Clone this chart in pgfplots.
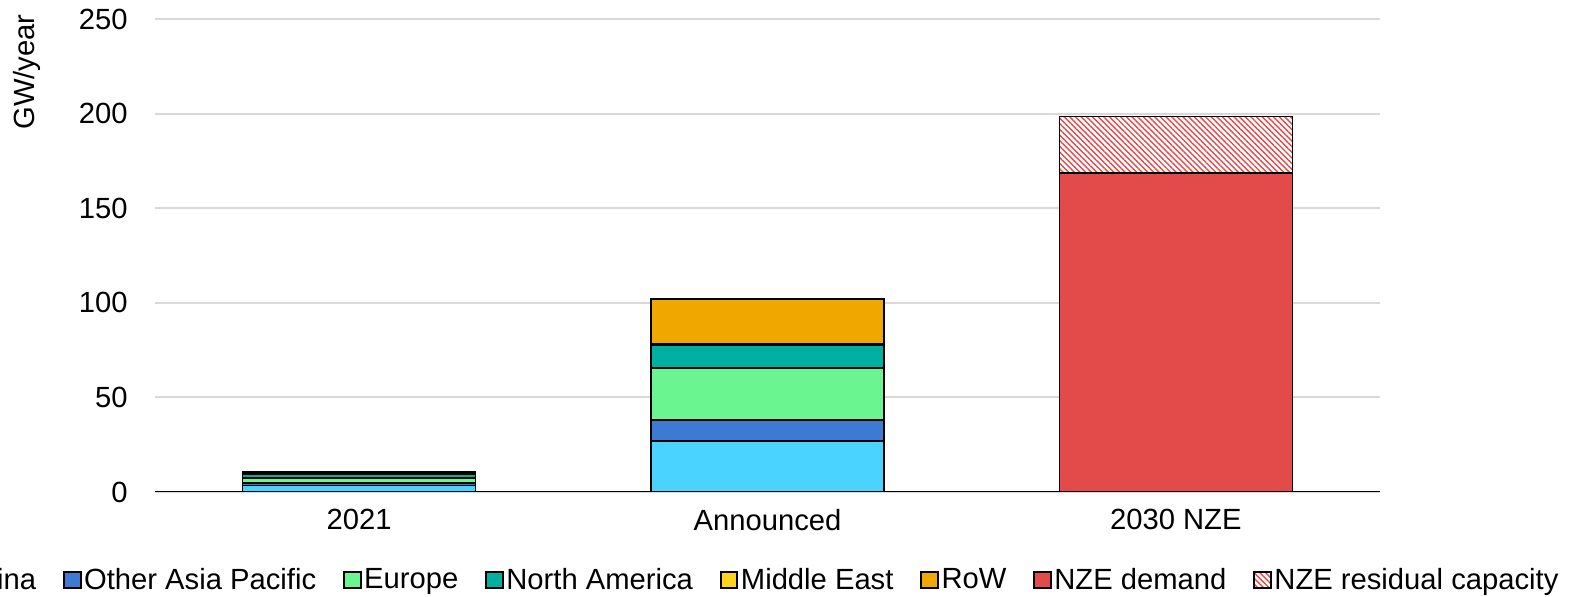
\documentclass[border=0pt]{standalone}
\usepackage{pgfplots}
\pgfplotsset{compat=1.18}
\usepackage{fontspec}
\setmainfont{Liberation Sans}
\usetikzlibrary{patterns.meta}

\definecolor{china}{HTML}{4AD3FF}
\definecolor{oap}{HTML}{3D7AD3}
\definecolor{europe}{HTML}{6AF591}
\definecolor{namerica}{HTML}{00AFA0}
\definecolor{mideast}{HTML}{FFD21F}
\definecolor{row}{HTML}{F0A800}
\definecolor{nzered}{HTML}{E34B4B}
\definecolor{gridgray}{HTML}{D9D9D9}

\begin{document}
\begin{tikzpicture}[font=\fontsize{14.6}{17}\selectfont]
% the legend runs past the left edge in the original, so crop to the frame
\useasboundingbox (-77.5pt,-52.5pt) rectangle (707.5pt,246pt);
\clip (-77.5pt,-52.5pt) rectangle (707.5pt,246pt);
\begin{axis}[
    at={(0,0)}, anchor=south west,
    scale only axis,
    width=612.5pt, height=236.5pt,
    ybar stacked,
    bar width=116.5pt,
    xmin=-0.5, xmax=2.5,
    ymin=0, ymax=250,
    xtick={0,1,2},
    xticklabels={2021,Announced,2030 NZE},
    ytick={0,50,...,250},
    ymajorgrids,
    grid style={draw=gridgray, line width=1pt},
    axis line style={draw=none},
    tick style={draw=none},
    font=\fontsize{14.6}{17}\selectfont,
    /pgf/number format/assume math mode=true,
    yticklabel style={inner sep=0pt, xshift=-13.5pt},
    xticklabel style={inner sep=0pt, yshift=-8.5pt},
    legend image code/.code={\draw[#1, line width=1pt] (0pt,-4.2pt) rectangle (8.4pt,4.2pt);},
    legend style={at={(0.4855,-0.186)}, anchor=center, draw=none, fill=none,
        font=\fontsize{14.6}{17}\selectfont,
        nodes={inner xsep=1.3pt},
        /tikz/every even column/.append style={column sep=12pt}},
    legend columns=-1,
    every axis plot/.append style={draw=black, line width=0.75pt},
]
\addplot[fill=china] coordinates {(0,3.3) (1,27) (2,0)};
\addplot[fill=oap] coordinates {(0,1.5) (1,11) (2,0)};
\addplot[fill=europe] coordinates {(0,2.6) (1,27.5) (2,0)};
\addplot[fill=namerica] coordinates {(0,2.1) (1,12.2) (2,0)};
\addplot[fill=mideast] coordinates {(0,0.3) (1,0.8) (2,0)};
\addplot[fill=row] coordinates {(0,0.7) (1,23.5) (2,0)};
\addplot[fill=nzered] coordinates {(0,0) (1,0) (2,168.5)};
\addplot[fill=white, postaction={pattern={Lines[angle=-45,distance=2pt,line width=0.7pt]}, pattern color=nzered}]
    coordinates {(0,0) (1,0) (2,30)};
\legend{China, Other Asia Pacific, Europe, North America, Middle East, RoW, NZE demand, NZE residual capacity}
\draw[black, line width=1pt] (axis cs:-0.5,0) -- (axis cs:2.5,0);
\end{axis}
\node[rotate=90] at (-64pt,210pt) {GW/year};
\end{tikzpicture}
\end{document}
